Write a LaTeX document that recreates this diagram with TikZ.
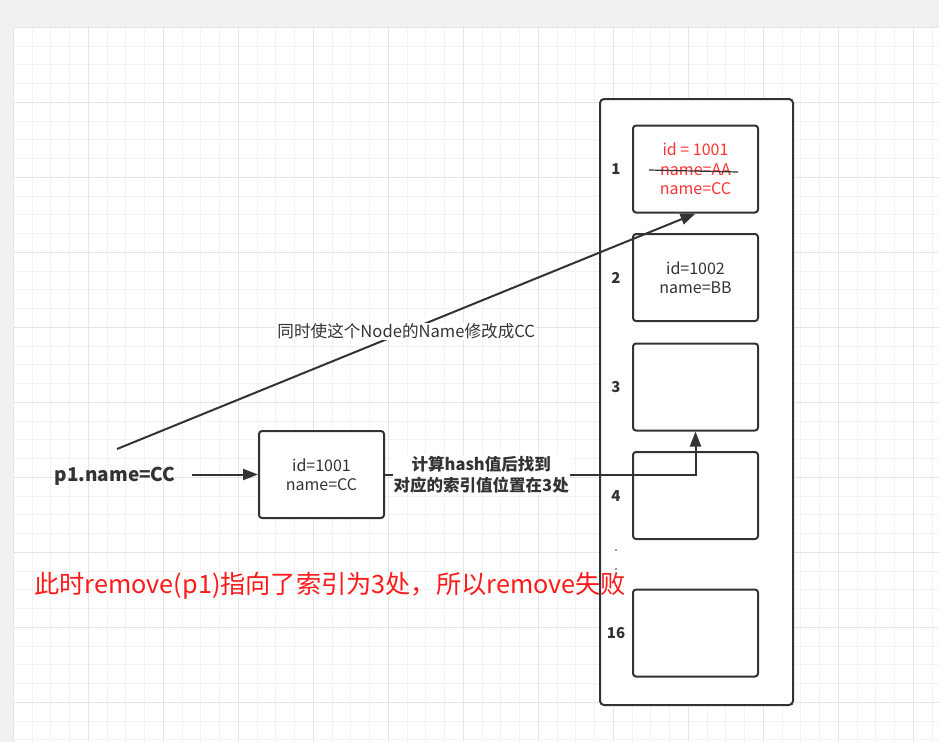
\documentclass[tikz,border=0pt]{standalone}
\usepackage{fontspec}
\setmainfont{Noto Sans CJK SC}
\usetikzlibrary{arrows.meta,calc}
\definecolor{ink}{HTML}{333333}
\definecolor{canvas}{HTML}{F1F1F1}
\definecolor{gridminor}{HTML}{F3F3F3}
\definecolor{gridmajor}{HTML}{E5E5E5}
\definecolor{oldred}{HTML}{FF3333}
\definecolor{alert}{HTML}{FF1A1A}

\begin{document}
\begin{tikzpicture}[x=1pt,y=-1pt,
    bucket/.style={draw=ink, line width=2pt, fill=white, rounded corners=3pt,
      minimum width=125pt, minimum height=87pt, inner sep=0pt, align=center,
      text=ink, font=\fontsize{16}{19.5}\selectfont},
    idx/.style={text=ink, font=\fontsize{15}{18}\selectfont\bfseries},
    conn/.style={draw=ink, line width=2pt, -{Triangle[length=15pt,width=11pt]}},
    note/.style={fill=white, text=ink, inner sep=1pt, align=center}]
    \useasboundingbox (0,0) rectangle (939,742);
    % canvas and grid
    \fill[canvas] (0,0) rectangle (939,742);
    \fill[white] (13,27) rectangle (939,742);
    \foreach \i in {0,...,49} \draw[gridminor] ({13+18.75*\i},27) -- ({13+18.75*\i},742);
    \foreach \j in {0,...,38} \draw[gridminor] (13,{27+18.75*\j}) -- (939,{27+18.75*\j});
    \foreach \i in {0,...,12} \draw[gridmajor] ({13+75*\i},27) -- ({13+75*\i},742);
    \foreach \j in {0,...,9} \draw[gridmajor] (13,{27+75*\j}) -- (939,{27+75*\j});
    % the table
    \node[draw=ink, line width=2pt, fill=white, rounded corners=4pt,
      minimum width=193pt, minimum height=606pt] (table) at (696.5,402) {};
    \node[bucket, text=oldred] (b1) at (695.5,169) {id = 1001\\name=AA\\name=CC};
    \draw[ink, line width=1.2pt] ($(b1.center)+(-46.5,1)$) -- ($(b1.center)+(42.5,3)$);
    \node[bucket] (b2) at (695.5,277.5) {id=1002\\name=BB};
    \node[bucket] (b3) at (695.5,387) {};
    \node[bucket] (b4) at (695.5,495.5) {};
    \node[bucket] (b16) at (695.5,633) {};
    \node[idx] (i1) at (616,169) {1};
    \node[idx] (i2) at (616,278) {2};
    \node[idx] (i3) at (616,387) {3};
    \node[idx] (i4) at (616,496) {4};
    \node[idx] (i16) at (616,633) {16};
    \fill[ink] (616,550) circle (0.9);
    \fill[ink] (616,569) circle (0.9);
    % the key
    \node[text=ink, font=\fontsize{19}{22}\selectfont\bfseries] (p1) at (115,476) {p1.name=CC};
    \node[bucket] (key) at (321.5,474.5) {id=1001\\name=CC};
    \coordinate (p1up) at (117,449);
    \draw[conn, shorten <=13pt] (p1.east |- key.west) -- (key.west);
    \draw[conn] (key.east) -| (b3.south)
      node[pos=0.155, note, font=\fontsize{16.5}{21}\selectfont\bfseries] {计算hash值后找到\\对应的索引值位置在3处};
    \draw[conn] (p1up) -- (b1.south)
      node[midway, note, font=\fontsize{16.6}{20}\selectfont] {同时使这个Node的Name修改成CC};
    \node[anchor=west, text=alert, font=\fontsize{25.2}{29}\selectfont] (msg) at (31,586)
      {此时remove(p1)指向了索引为3处，所以remove失败};
\end{tikzpicture}
\end{document}
